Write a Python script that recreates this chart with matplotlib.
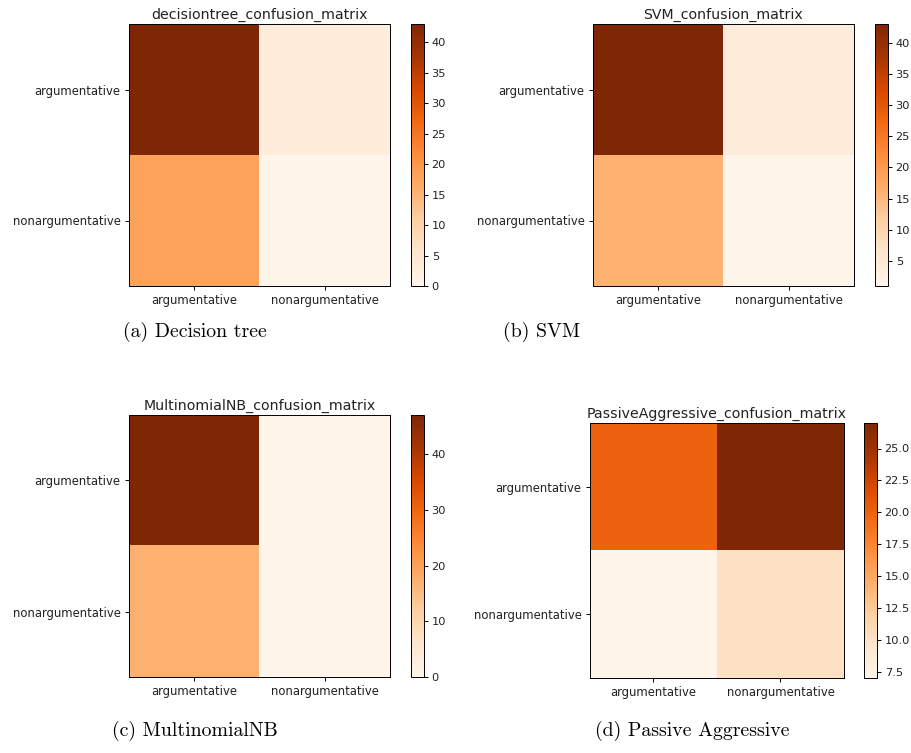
import matplotlib
matplotlib.use("Agg")
import numpy as np
import matplotlib.pyplot as plt

# confusion matrices (rows = true, cols = predicted)
labels = ["argumentative", "nonargumentative"]

titles = [
    "decisiontree_confusion_matrix",
    "SVM_confusion_matrix",
    "MultinomialNB_confusion_matrix",
    "PassiveAggressive_confusion_matrix",
]
captions = ["(a) Decision tree", "(b) SVM", "(c) MultinomialNB", "(d) Passive Aggressive"]

decisiontree_cm = [[43, 3], [18, 0]]
svm_cm = [[43, 4], [16, 1]]
multinomialnb_cm = [[47, 0], [17, 0]]
passiveaggressive_cm = [[20, 27], [7, 10]]

matrices = [decisiontree_cm, svm_cm, multinomialnb_cm, passiveaggressive_cm]

W, H = 912, 753


def px_rect(x0, y0, x1, y1):
    # pixel box (top-left origin) -> figure fraction rect
    return [x0 / W, 1 - y1 / H, (x1 - x0) / W, (y1 - y0) / H]


# axes boxes and colorbar boxes in pixels
axes_boxes = [
    (129, 24, 390, 286),
    (593, 24, 854, 286),
    (129, 415, 390, 677),
    (590, 423, 844, 678),
]
cbar_boxes = [
    (411, 24, 424, 286),
    (875, 24, 888, 286),
    (411, 415, 424, 677),
    (864, 423, 877, 678),
]
caption_pos = [(195, 332), (542, 332), (195, 731), (692, 731)]

fig = plt.figure(figsize=(W / 100, H / 100), dpi=100)

for i in range(4):
    ax = fig.add_axes(px_rect(*axes_boxes[i]))
    cax = fig.add_axes(px_rect(*cbar_boxes[i]))
    cm = np.array(matrices[i])
    im = ax.imshow(cm, cmap="Oranges", interpolation="nearest", aspect="auto")
    ax.set_title(titles[i], fontsize=10.2, pad=4, color="#222222")
    ax.set_xticks([0, 1])
    ax.set_xticklabels(labels)
    ax.set_yticks([0, 1])
    ax.set_yticklabels(labels)
    ax.tick_params(labelsize=8.4, length=3, pad=3, width=0.7, labelcolor="#222222")
    for sp in ax.spines.values():
        sp.set_linewidth(0.7)
    cb = fig.colorbar(im, cax=cax)
    cb.ax.tick_params(labelsize=8.2, length=3, pad=2.5, width=0.7, labelcolor="#222222")
    cb.outline.set_linewidth(0.7)

    cx, cy = caption_pos[i]
    fig.text(cx / W, 1 - cy / H, captions[i], ha="center", va="center",
             fontsize=14.3, family="cmr10")

fig.savefig("out.png", dpi=100)
